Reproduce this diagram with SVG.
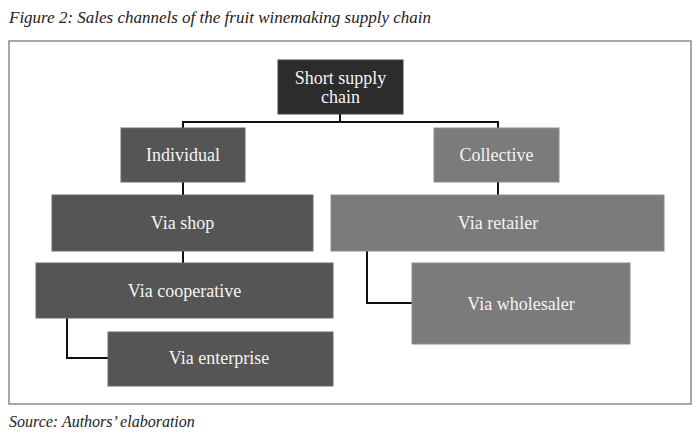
<svg xmlns="http://www.w3.org/2000/svg" width="700" height="440" viewBox="0 0 700 440">
<style>
.cap{font-family:"Liberation Serif","Times New Roman",serif;font-style:italic;font-size:17px;fill:#222}
.src{font-size:16px}
.lbl{font-family:"Liberation Serif","Times New Roman",serif;font-size:18px;fill:#f4f4f4;text-anchor:middle}
.dark{fill:#2c2c2c;stroke:#444;stroke-width:1}
.mid{fill:#555555;stroke:#6a6a6a;stroke-width:1}
.light{fill:#7b7b7b;stroke:#8e8e8e;stroke-width:1}
.conn{fill:none;stroke:#111;stroke-width:2}
</style>
<rect width="700" height="440" fill="#fff"/>
<text class="cap" x="9" y="23">Figure 2: Sales channels of the fruit winemaking supply chain</text>
<rect x="9" y="41" width="682" height="363" fill="#fff" stroke="#8a8a8a" stroke-width="1.5"/>
<g id="connectors">
<path class="conn" d="M340 114 V122 M183 128 V122 H498 V128"/>
<path class="conn" d="M183 182 V195 M183 251 V263"/>
<path class="conn" d="M67 318 V358 H108"/>
<path class="conn" d="M498 182 V195"/>
<path class="conn" d="M367 251 V303 H412"/>
</g>
<g id="short-supply-chain">
<rect class="dark" x="278" y="60" width="125" height="54"/>
<text class="lbl" x="340.5" y="84">Short supply</text>
<text class="lbl" x="340.5" y="103">chain</text>
</g>
<g id="individual">
<rect class="mid" x="121" y="128" width="124" height="54"/>
<text class="lbl" x="183" y="161">Individual</text>
</g>
<g id="collective">
<rect class="light" x="434" y="128" width="125" height="54"/>
<text class="lbl" x="496.5" y="161">Collective</text>
</g>
<g id="via-shop">
<rect class="mid" x="52" y="195" width="261" height="56"/>
<text class="lbl" x="182.5" y="229">Via shop</text>
</g>
<g id="via-cooperative">
<rect class="mid" x="36" y="263" width="297" height="55"/>
<text class="lbl" x="184.5" y="297">Via cooperative</text>
</g>
<g id="via-enterprise">
<rect class="mid" x="108" y="332" width="225" height="54"/>
<text class="lbl" x="219" y="364">Via enterprise</text>
</g>
<g id="via-retailer">
<rect class="light" x="331" y="195" width="333" height="56"/>
<text class="lbl" x="498" y="229">Via retailer</text>
</g>
<g id="via-wholesaler">
<rect class="light" x="412" y="263" width="218" height="81"/>
<text class="lbl" x="521" y="310">Via wholesaler</text>
</g>
<text class="cap src" x="9" y="427">Source: Authors’ elaboration</text>
</svg>
